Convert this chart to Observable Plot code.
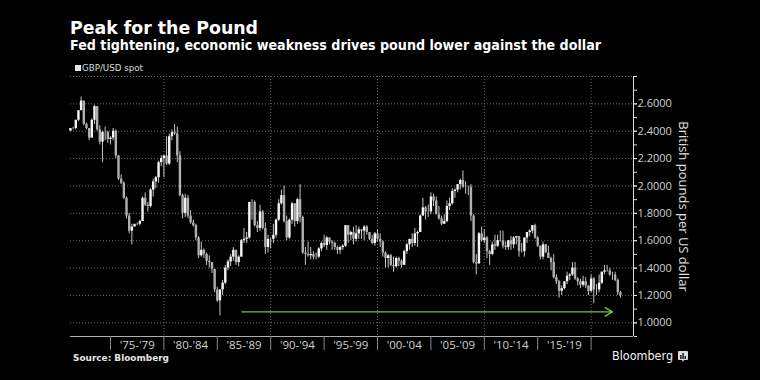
<!DOCTYPE html>
<html><head><meta charset="utf-8">
<script src="https://cdn.jsdelivr.net/npm/d3@7"></script>
<script src="https://cdn.jsdelivr.net/npm/@observablehq/plot@0.6"></script>
<style>
html,body{margin:0;padding:0;background:#000;}
#wrap{position:relative;width:760px;height:380px;overflow:hidden;background:#000;font-family:"DejaVu Sans",sans-serif;}
.t{position:absolute;white-space:nowrap;line-height:1;transform-origin:0 0;}
#chart{position:absolute;left:0;top:74px;}
</style></head><body>
<div id="wrap">
  <div class="t" data-w="188" style="left:70px;top:19.6px;font-size:17px;font-weight:bold;color:#fff">Peak for the Pound</div>
  <div class="t" data-w="531" style="left:70px;top:39.1px;font-size:13.5px;font-weight:bold;color:#fff">Fed tightening, economic weakness drives pound lower against the dollar</div>
  <div style="position:absolute;left:75px;top:65px;width:6px;height:6px;background:#e6e6e6"></div>
  <div class="t" data-w="61" style="left:82px;top:63px;font-size:9.5px;color:#ddd">GBP/USD spot</div>
  <div id="chart"></div>
  <div class="t" data-w="96" style="left:73px;top:353.3px;font-size:9.5px;font-weight:bold;color:#e6e6e6">Source: Bloomberg</div>
  <div class="t" data-w="61" style="left:612px;top:350px;font-size:12px;color:#f2f2f2">Bloomberg</div>
  <svg style="position:absolute;left:678px;top:351px" width="10" height="11" viewBox="0 0 10 11">
    <path d="M1,0 H9 Q10,0 10,1 V8 Q10,9 9,9 H6 L5,11 L4,9 H1 Q0,9 0,8 V1 Q0,0 1,0 Z" fill="#ddd"/>
    <rect x="2.2" y="4" width="1.3" height="4" fill="#000"/>
    <rect x="4.4" y="2" width="1.3" height="6" fill="#000"/>
    <rect x="6.6" y="5" width="1.3" height="3" fill="#000"/>
  </svg>
</div>
<script>
// GBP/USD quarterly candles, 1971 Q1 .. 2022 Q3 (placed at quarter end)
const firstQuarterEnd = 1971.25;
const firstOpen = 2.40;
const close = [
  2.42,2.42,2.48,2.55, 2.62,2.45,2.42,2.35, 2.48,2.58,2.41,2.32, 2.39,2.39,2.34,2.35,
  2.40,2.22,2.05,2.02, 1.91,1.78,1.67,1.70, 1.72,1.72,1.74,1.91, 1.86,1.85,1.97,2.03,
  2.06,2.17,2.20,2.22, 2.16,2.36,2.39,2.38, 2.22,1.93,1.80,1.91, 1.78,1.73,1.71,1.62,
  1.49,1.53,1.50,1.45, 1.44,1.39,1.24,1.16, 1.24,1.29,1.40,1.445, 1.48,1.53,1.44,1.48,
  1.60,1.61,1.62,1.88, 1.88,1.71,1.69,1.81, 1.69,1.55,1.61,1.61, 1.64,1.75,1.87,1.93,
  1.74,1.62,1.75,1.87, 1.74,1.90,1.77,1.51, 1.50,1.49,1.50,1.48, 1.48,1.54,1.58,1.565,
  1.62,1.59,1.58,1.55, 1.53,1.55,1.56,1.71, 1.64,1.66,1.61,1.65, 1.68,1.67,1.70,1.66,
  1.61,1.58,1.65,1.61, 1.59,1.51,1.47,1.49, 1.42,1.41,1.47,1.45, 1.42,1.52,1.57,1.61,
  1.58,1.65,1.66,1.78, 1.84,1.81,1.81,1.92, 1.89,1.79,1.76,1.72, 1.74,1.85,1.87,1.96,
  1.97,2.01,2.04,1.99, 1.99,1.99,1.78,1.44, 1.43,1.65,1.60,1.62, 1.52,1.50,1.57,1.56,
  1.60,1.60,1.56,1.55, 1.60,1.57,1.62,1.63, 1.52,1.52,1.62,1.66, 1.67,1.71,1.62,1.56,
  1.48,1.57,1.51,1.47, 1.44,1.33,1.30,1.23, 1.25,1.30,1.34,1.35, 1.40,1.32,1.30,1.275,
  1.30,1.27,1.23,1.32, 1.24,1.24,1.29,1.37, 1.38,1.38,1.35,1.35, 1.31,1.22,1.20
];
const high = [
  2.42,2.43,2.48,2.55, 2.65,2.62,2.46,2.42, 2.49,2.59,2.58,2.44, 2.40,2.43,2.40,2.36,
  2.42,2.41,2.22,2.08, 2.03,1.92,1.80,1.72, 1.72,1.73,1.75,1.92, 1.95,1.88,1.98,2.05,
  2.07,2.18,2.22,2.22, 2.36,2.38,2.41,2.45, 2.43,2.25,1.94,1.94, 1.93,1.82,1.75,1.72,
  1.63,1.59,1.54,1.51, 1.49,1.44,1.39,1.26, 1.24,1.31,1.42,1.46, 1.50,1.55,1.53,1.49,
  1.61,1.69,1.66,1.88, 1.90,1.89,1.74,1.86, 1.82,1.73,1.64,1.62, 1.72,1.76,1.90,1.97,
  2.00,1.78,1.76,1.88, 1.87,1.91,2.01,1.78, 1.55,1.59,1.55,1.52, 1.51,1.55,1.59,1.64,
  1.63,1.62,1.60,1.59, 1.56,1.56,1.57,1.71, 1.71,1.67,1.70,1.71, 1.70,1.68,1.71,1.71,
  1.66,1.64,1.66,1.68, 1.65,1.60,1.52,1.50, 1.50,1.48,1.48,1.48, 1.46,1.53,1.58,1.61,
  1.65,1.69,1.67,1.79, 1.91,1.85,1.86,1.95, 1.94,1.92,1.85,1.78, 1.79,1.89,1.91,1.98,
  1.98,2.01,2.05,2.11, 2.03,2.00,2.01,1.79, 1.50,1.66,1.70,1.68, 1.63,1.53,1.59,1.64,
  1.64,1.67,1.67,1.59, 1.60,1.63,1.63,1.63, 1.63,1.58,1.62,1.66, 1.68,1.71,1.72,1.63,
  1.56,1.59,1.57,1.56, 1.48,1.50,1.35,1.31, 1.27,1.30,1.37,1.36, 1.44,1.44,1.33,1.32,
  1.34,1.33,1.27,1.35, 1.33,1.28,1.35,1.37, 1.42,1.42,1.40,1.37, 1.37,1.32,1.23
];
const low = [
  2.40,2.41,2.41,2.47, 2.55,2.44,2.41,2.33, 2.35,2.45,2.40,2.30, 2.17,2.33,2.31,2.30,
  2.33,2.20,2.04,2.01, 1.90,1.76,1.65,1.57, 1.70,1.71,1.71,1.74, 1.85,1.81,1.84,1.92,
  1.98,2.02,2.14,2.06, 2.15,2.15,2.33,2.37, 2.17,1.92,1.76,1.77, 1.76,1.72,1.70,1.60,
  1.47,1.48,1.47,1.42, 1.40,1.36,1.22,1.15, 1.05,1.20,1.28,1.38, 1.41,1.45,1.42,1.41,
  1.48,1.58,1.58,1.61, 1.75,1.70,1.66,1.67, 1.68,1.50,1.51,1.54, 1.58,1.62,1.74,1.86,
  1.73,1.60,1.61,1.72, 1.70,1.72,1.73,1.50, 1.42,1.48,1.46,1.46, 1.46,1.47,1.52,1.55,
  1.53,1.57,1.53,1.53, 1.50,1.50,1.53,1.55, 1.58,1.60,1.57,1.59, 1.61,1.61,1.60,1.64,
  1.60,1.57,1.56,1.59, 1.55,1.48,1.40,1.40, 1.41,1.37,1.40,1.41, 1.40,1.42,1.50,1.53,
  1.55,1.56,1.55,1.66, 1.78,1.75,1.77,1.79, 1.85,1.79,1.75,1.71, 1.72,1.73,1.82,1.86,
  1.91,1.95,1.97,1.98, 1.94,1.93,1.74,1.43, 1.35,1.43,1.59,1.58, 1.47,1.42,1.49,1.53,
  1.55,1.59,1.54,1.53, 1.53,1.53,1.54,1.57, 1.48,1.51,1.48,1.58, 1.63,1.65,1.61,1.55,
  1.46,1.46,1.51,1.47, 1.38,1.32,1.28,1.18, 1.20,1.24,1.28,1.31, 1.34,1.31,1.27,1.25,
  1.26,1.25,1.20,1.22, 1.14,1.20,1.22,1.28, 1.35,1.37,1.34,1.31, 1.30,1.20,1.18
];

const xDomain = [1971.255, 2023.97];
const yDomain = [0.9, 2.8];
const yLabelTicks = [1.0, 1.2, 1.4, 1.6, 1.8, 2.0, 2.2, 2.4, 2.6];
const yMinorTicks = [0.9,1.0,1.1,1.2,1.3,1.4,1.5,1.6,1.7,1.8,1.9,2.0,2.1,2.2,2.3,2.4,2.5,2.6,2.7,2.8];
const yGrid = [1.0, 1.2, 1.4, 1.6, 1.8, 2.0, 2.2, 2.4, 2.6, 2.8];
const xGrid = [1980, 1990, 2000, 2010, 2020];
const xSeparators = [1975, 1980, 1985, 1990, 1995, 2000, 2005, 2010, 2015, 2020];
const xLabelPos = [1977.5, 1982.5, 1987.5, 1992.5, 1997.5, 2002.5, 2007.5, 2012.5, 2017.5];
const xLabels = ["'75-'79","'80-'84","'85-'89","'90-'94","'95-'99","'00-'04","'05-'09","'10-'14","'15-'19"];
const arrow = [{x1: 1987.3, x2: 2022.0, y: 1.08}];
const yTitle = ["British pounds per US dollar"];

const candles = close.map((c, i) => ({
  t: firstQuarterEnd + i * 0.25,
  open: i ? close[i - 1] : firstOpen,
  close: c, high: high[i], low: low[i]
}));
const labelMap = new Map(xLabelPos.map((p, i) => [p, xLabels[i]]));

const chart = Plot.plot({
  width: 760, height: 278,
  marginLeft: 70, marginRight: 127, marginTop: 2, marginBottom: 16,
  x: {domain: xDomain},
  y: {domain: yDomain},
  style: {background: "#000", color: "#ccc", fontFamily: "'Open Sans', sans-serif", fontSize: "11px", overflow: "visible"},
  marks: [
    Plot.ruleY(yGrid, {stroke: "#6a6a6a", strokeDasharray: "1,2", strokeWidth: 1}),
    Plot.ruleX(xGrid, {stroke: "#6a6a6a", strokeDasharray: "1,2", strokeWidth: 1}),
    Plot.ruleX(candles, {x: "t", y1: "low", y2: "high", stroke: "#c4c4c4", strokeWidth: 1}),
    Plot.ruleX(candles, {x: "t", y1: "open", y2: "close", strokeWidth: 2.4,
      stroke: d => d.close >= d.open ? "#f6f6f6" : "#b0b0b0"}),
    Plot.arrow(arrow, {x1: "x1", x2: "x2", y1: "y", y2: "y", stroke: "#7cbf3d", strokeWidth: 1.4, headLength: 9, headAngle: 60}),
    Plot.ruleY([yDomain[0]], {stroke: "#b0b0b0", strokeWidth: 1}),
    Plot.ruleX([xDomain[1]], {stroke: "#dcdcdc", strokeWidth: 1}),
    Plot.axisY({anchor: "right", ticks: yMinorTicks, tickSize: 3, tickFormat: () => "", stroke: "#dcdcdc"}),
    Plot.axisY({anchor: "right", ticks: yLabelTicks, tickSize: 3, tickPadding: 1, tickFormat: d3.format(".4f"),
      label: null, fill: "#d0d0d0", fontSize: 11, stroke: "#dcdcdc"}),
    Plot.axisX({ticks: xSeparators, tickSize: 14, tickFormat: () => "", stroke: "#8a8a8a", label: null}),
    Plot.axisX({ticks: xLabelPos, tickSize: 0, tickPadding: 4, tickFormat: d => labelMap.get(d),
      label: null, fill: "#d0d0d0", fontSize: 11.5}),
    Plot.text(yTitle, {frameAnchor: "right", dx: 50, rotate: 90, textAnchor: "middle", fill: "#e0e0e0", fontSize: 13})
  ]
});
document.getElementById("chart").appendChild(chart);

document.querySelectorAll(".t[data-w]").forEach(el => {
  const w = +el.dataset.w;
  const m = el.getBoundingClientRect().width;
  if (m > 0) el.style.transform = `scaleX(${w / m})`;
});
</script>
</body></html>
